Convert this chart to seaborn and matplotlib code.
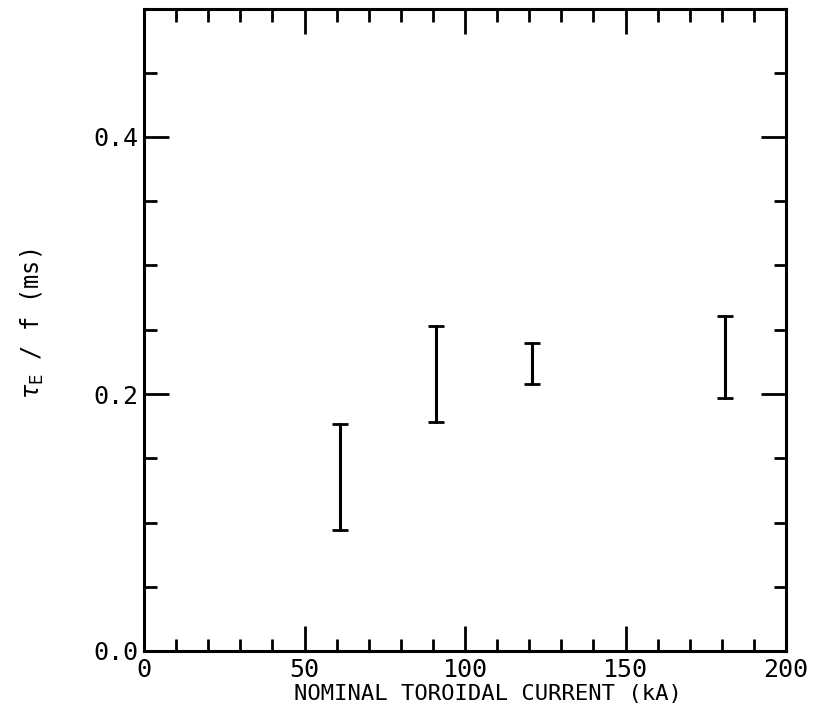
import matplotlib
matplotlib.use("Agg")
import matplotlib.pyplot as plt
import seaborn as sns
import pandas as pd
from matplotlib.ticker import MultipleLocator

# Data
current_ka = [61, 91, 121, 181]
tau_low = [0.094, 0.178, 0.208, 0.197]
tau_high = [0.177, 0.253, 0.240, 0.261]

x_ticks = [0, 50, 100, 150, 200]
y_ticks = [0.0, 0.2, 0.4]

sns.set_theme(style="ticks")
plt.rcParams['font.family'] = ['DejaVu Sans Mono', 'DejaVu Sans']

df = pd.DataFrame({
    "current": current_ka + current_ka,
    "tau": tau_low + tau_high,
})

fig = plt.figure(figsize=(8.13, 7.2), dpi=100)
ax = fig.add_axes([144/813, 69/720, (786-144)/813, (651-8.5)/720])

sns.lineplot(data=df, x="current", y="tau", estimator="mean",
             errorbar=("pi", 100), err_style="bars", linestyle="",
             color="black", ax=ax,
             err_kws=dict(capsize=5.5, elinewidth=2.2, capthick=2.0, ecolor="black"))

ax.set_xlim(0, 200)
ax.set_ylim(0, 0.5)
ax.set_xticks(x_ticks)
ax.set_xticklabels([str(t) for t in x_ticks])
ax.set_yticks(y_ticks)
ax.set_yticklabels([f"{t:.1f}" for t in y_ticks])
ax.xaxis.set_minor_locator(MultipleLocator(10))
ax.yaxis.set_minor_locator(MultipleLocator(0.05))

ax.tick_params(which="both", direction="in", top=True, right=True,
               color="black", labelcolor="black", labelsize=18)
ax.tick_params(which="major", length=18, width=2.0)
ax.tick_params(which="minor", length=9, width=2.0)
ax.tick_params(axis="y", which="major", pad=4)
ax.tick_params(axis="x", which="major", pad=5)

for sp in ax.spines.values():
    sp.set_linewidth(2.2)
    sp.set_color("black")
    sp.set_visible(True)

ax.set_xlabel("NOMINAL TOROIDAL CURRENT (kA)", fontsize=16, color="black")
ax.xaxis.set_label_coords(0.536, -0.052)
ax.xaxis.label.set_va("top")
ax.set_ylabel(r"$\tau_\mathrm{E}$ / f (ms)", fontsize=17, color="black")
ax.yaxis.set_label_coords(-0.152, 0.51)

fig.savefig("out.png", dpi=100)
